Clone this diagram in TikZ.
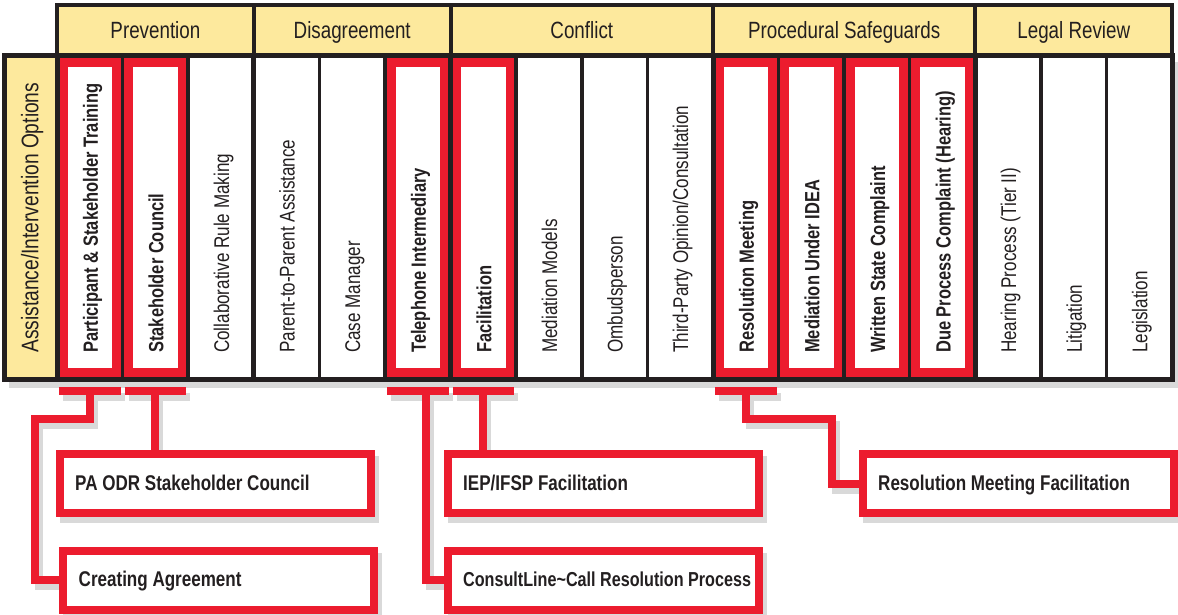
\documentclass[tikz,border=0pt]{standalone}
\usepackage{fontspec}
\setmainfont{Liberation Sans}[FakeStretch=0.8]
\usetikzlibrary{calc}

\pgfdeclarelayer{shade}
\pgfsetlayers{shade,main}

\definecolor{odryellow}{RGB}{253,233,157}
\definecolor{odrred}{RGB}{236,28,46}
\definecolor{odrink}{RGB}{35,31,32}

\tikzset{
    headcell/.style={draw=odrink, line width=4pt, fill=odryellow, minimum height=51pt,
        outer sep=0pt, inner sep=0pt, text=odrink, text height=16pt, text depth=0pt,
        font=\fontsize{23.5}{26}\selectfont},
    optcell/.style={draw=odrink, line width=3.5pt, fill=white, minimum width=65.6pt,
        minimum height=323.5pt, outer sep=0pt, inner sep=0pt},
    sidecell/.style={draw=odrink, line width=5pt, fill=odryellow, minimum width=52.5pt,
        minimum height=323.5pt, outer sep=0pt, inner sep=0pt},
    optlabel/.style={rotate=90, anchor=base west, inner sep=0pt, text=odrink,
        font=\fontsize{21.3}{24}\selectfont},
    optkey/.style={optlabel, font=\fontsize{20.6}{24}\selectfont\bfseries},
    sidelabel/.style={rotate=90, anchor=base, inner sep=0pt, text=odrink,
        font=\fontsize{24}{26}\selectfont},
    redframe/.style={draw=odrred, line width=9pt},
    odrbox/.style={draw=odrred, line width=8pt, fill=white, minimum width=311pt,
        minimum height=59pt, outer sep=0pt, inner sep=0pt},
    boxtext/.style={anchor=base west, inner sep=0pt, text=odrink,
        font=\fontsize{21.3}{24}\selectfont\bfseries},
    link/.style={draw=odrred, line width=8pt},
    linkshade/.style={draw=black!15, line width=8pt},
}

% 列から箱への赤い線
\newcommand{\odrlinks}[1]{%
    \foreach \i in {1,2,6,7,11} {
        \draw[#1] ([shift={(2,11)}]c\i.south west) -- ([shift={(-2,11)}]c\i.south east);
    }
    \draw[#1] (b1) |- (k1) |- (ca.west);
    \draw[#1] (b2) -- (b2 |- pa.north);
    \draw[#1] ([xshift=8pt]b6) |- (clc.west);
    \draw[#1] (b7) -- (b7 |- ief.north);
    \draw[#1] (b11) |- (k11) |- (rmf.west);
}

\begin{document}
\begin{tikzpicture}[x=1pt, y=-1pt]

    \pgfmathsetmacro{\colw}{65.6}
    \pgfmathsetmacro{\xo}{57}

    \useasboundingbox (0,0) rectangle (1178,615);

    % 見出し行
    \foreach \a/\b/\lab [count=\j] in {0/3/Prevention, 3/6/Disagreement, 6/10/Conflict,
            10/14/Procedural Safeguards, 14/17/Legal Review} {
        \node[headcell, minimum width={(\b-\a)*\colw*1pt}] (h\j)
            at ({\xo+(\a+\b)/2*\colw}, 30.5) {\lab};
    }

    % 選択肢の列
    \foreach \lab/\key [count=\i] in {Participant \& Stakeholder Training/1,
            Stakeholder Council/1, Collaborative Rule Making/0,
            Parent-to-Parent Assistance/0, Case Manager/0, Telephone Intermediary/1,
            Facilitation/1, Mediation Models/0, Ombudsperson/0,
            {Third-Party Opinion/Consultation}/0, Resolution Meeting/1,
            Mediation Under IDEA/1, Written State Complaint/1,
            Due Process Complaint (Hearing)/1, Hearing Process (Tier II)/0,
            Litigation/0, Legislation/0} {
        \node[optcell] (c\i) at ({\xo+(\i-0.5)*\colw}, 217.75) {};
        \ifnum\key=1
            \draw[redframe] ([shift={(6,7)}]c\i.north west) rectangle ([shift={(-6,-7)}]c\i.south east);
            \node[optkey] (t\i) at ([shift={(8,-26.5)}]c\i.south) {\lab};
        \else
            \node[optlabel] (t\i) at ([shift={(8,-26.5)}]c\i.south) {\lab};
        \fi
    }

    % 左の列
    \node[sidecell] (side) at (30.75, 217.75) {};
    \node[sidelabel] (sidet) at ([xshift=7.5pt]side.center) {Assistance/Intervention Options};

    % 区切り線と外枠
    \foreach \j in {3,6,10,14} {
        \draw[odrink, line width=5pt] (c\j.north east) -- (c\j.south east);
    }
    \draw[odrink, line width=5pt] (side.north west) rectangle (c17.south east);

    % 下の箱
    \node[odrbox] (pa) at (215, 483.5) {};
    \node[odrbox] (ca) at (218.5, 580) {};
    \node[odrbox] (ief) at (603, 483.5) {};
    \node[odrbox] (clc) at (603, 580) {};
    \node[odrbox] (rmf) at (1018, 483.5) {};
    \node[boxtext] (pat) at ([shift={(15.5,6.5)}]pa.west) {PA ODR Stakeholder Council};
    \node[boxtext] (cat) at ([shift={(15.5,6.5)}]ca.west) {Creating Agreement};
    \node[boxtext] (ieft) at ([shift={(15.5,6.5)}]ief.west) {IEP/IFSP Facilitation};
    \node[boxtext, font=\fontsize{20.2}{24}\selectfont\bfseries] (clct)
        at ([shift={(15.5,6.5)}]clc.west) {ConsultLine\textasciitilde Call Resolution Process};
    \node[boxtext] (rmft) at ([shift={(15.5,6.5)}]rmf.west) {Resolution Meeting Facilitation};

    % 線の曲がり角
    \foreach \i in {1,2,6,7,11} {
        \coordinate (b\i) at ([shift={(0,11)}]c\i.south);
    }
    \coordinate (k1) at (35, 419);
    \coordinate (k11) at (832, 419);

    \odrlinks{link}

    % 影
    \begin{pgfonlayer}{shade}
        \fill[white] (0,0) rectangle (1178,615);
        \begin{scope}[transform canvas={shift={(4pt,-6pt)}}]
            \fill[black!15] (side.north west) rectangle ([shift={(2.5,2.5)}]c17.south east);
            \foreach \b in {pa,ca,ief,clc,rmf} {
                \fill[black!15] ([shift={(-4,-4)}]\b.north west) rectangle ([shift={(4,4)}]\b.south east);
            }
            \odrlinks{linkshade}
        \end{scope}
    \end{pgfonlayer}

\end{tikzpicture}
\end{document}
